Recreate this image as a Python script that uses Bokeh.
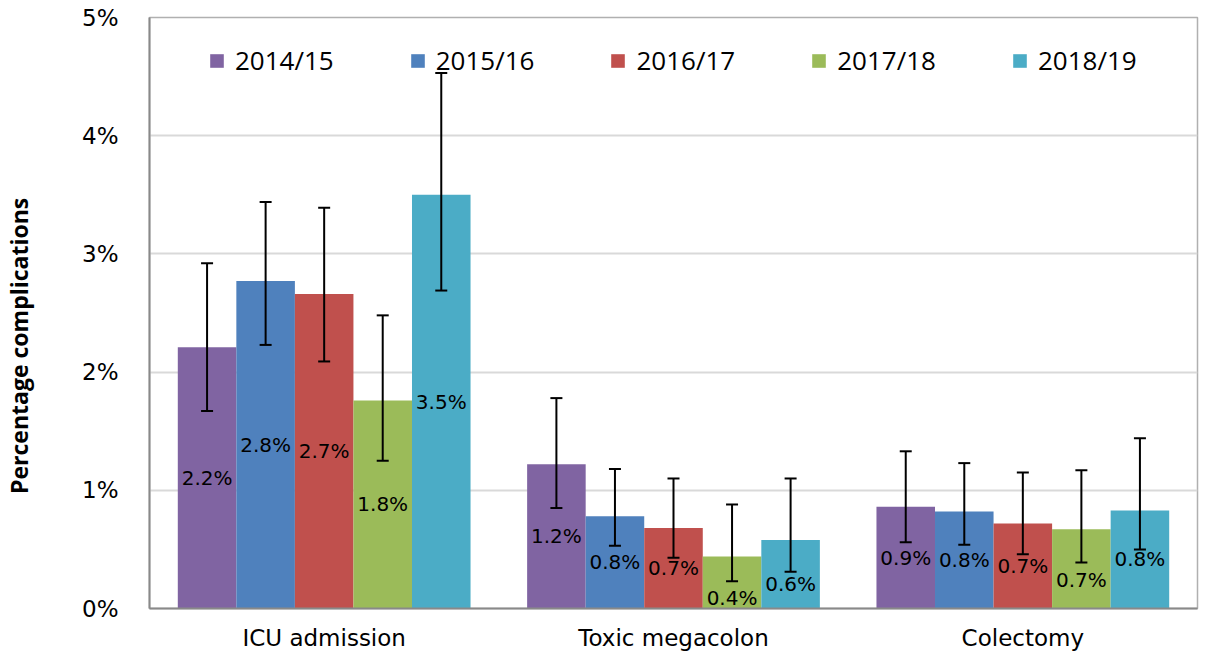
from bokeh.plotting import figure
from bokeh.models import Range1d, ColumnDataSource, FixedTicker, Legend, LegendItem, LabelSet
from bokeh.core.properties import value
from bokeh.embed import file_html
from bokeh.resources import INLINE

# ---- data ----
categories = ["ICU admission", "Toxic megacolon", "Colectomy"]
years = ["2014/15", "2015/16", "2016/17", "2017/18", "2018/19"]

pct_2014_15 = [2.21, 1.22, 0.86]
pct_2015_16 = [2.77, 0.78, 0.82]
pct_2016_17 = [2.66, 0.68, 0.72]
pct_2017_18 = [1.76, 0.44, 0.67]
pct_2018_19 = [3.50, 0.58, 0.83]

lo_2014_15 = [1.67, 0.85, 0.56]
hi_2014_15 = [2.92, 1.78, 1.33]
lo_2015_16 = [2.23, 0.53, 0.54]
hi_2015_16 = [3.44, 1.18, 1.23]
lo_2016_17 = [2.09, 0.43, 0.46]
hi_2016_17 = [3.39, 1.10, 1.15]
lo_2017_18 = [1.25, 0.23, 0.39]
hi_2017_18 = [2.48, 0.88, 1.17]
lo_2018_19 = [2.69, 0.31, 0.50]
hi_2018_19 = [4.53, 1.10, 1.44]

y_ticks = [0, 1, 2, 3, 4, 5]
y_tick_labels = ["0%", "1%", "2%", "3%", "4%", "5%"]
y_title = "Percentage complications"

# ---- styles ----
colors = ["#8064A2", "#4F81BD", "#C0504D", "#9BBB59", "#4BACC6"]
label_shift_px = [[0, 0, 0], [0, 0, 0], [0, 0, 0], [0, 16, 11], [0, 10, 0]]
bar_w = 0.1676
title_pad = "\u00a0" * 11  # nudges the rotated axis title toward the bottom

values = [pct_2014_15, pct_2015_16, pct_2016_17, pct_2017_18, pct_2018_19]
lows = [lo_2014_15, lo_2015_16, lo_2016_17, lo_2017_18, lo_2018_19]
highs = [hi_2014_15, hi_2015_16, hi_2016_17, hi_2017_18, hi_2018_19]

p = figure(width=1199, height=653, output_backend="svg", toolbar_location=None,
           x_range=Range1d(0, 3), y_range=Range1d(0, 5),
           min_border_left=148, min_border_right=2, min_border_top=17, min_border_bottom=42)

items = []
sources = []
for j, yr in enumerate(years):
    xs = [i + 0.5 + (j - 2) * bar_w for i in range(len(categories))]
    src = ColumnDataSource(dict(
        x=xs, top=values[j], lo=lows[j], hi=highs[j],
        mid=[v / 2 for v in values[j]],
        txt=[f"{v:.1f}%" for v in values[j]],
        dy=[-d for d in label_shift_px[j]],
    ))
    sources.append(src)
    r = p.vbar(x="x", top="top", width=bar_w, source=src, fill_color=colors[j], line_color=None)
    items.append(LegendItem(label=yr, renderers=[r]))

for src in sources:
    p.segment(x0="x", y0="lo", x1="x", y1="hi", source=src, line_color="black", line_width=2)
    p.scatter(x="x", y="hi", source=src, marker="dash", size=12, line_color="black", line_width=2)
    p.scatter(x="x", y="lo", source=src, marker="dash", size=12, line_color="black", line_width=2)

for src in sources:
    p.add_layout(LabelSet(x="x", y="mid", text="txt", source=src, y_offset="dy",
                          text_align="center", text_baseline="middle",
                          text_font=value("DejaVu Sans"), text_font_size="20px", text_color="black"))

legend = Legend(items=items, orientation="horizontal", location=(59, 530),
                glyph_width=17, glyph_height=17, label_standoff=10, spacing=75,
                padding=0, margin=0, border_line_color=None, background_fill_alpha=0,
                label_text_font="Open Sans", label_text_font_size="26px", label_text_color="black")
p.add_layout(legend, "center")

# axes
p.xaxis.ticker = FixedTicker(ticks=[0.5, 1.5, 2.5])
p.xaxis.major_label_overrides = {0.5: categories[0], 1.5: categories[1], 2.5: categories[2]}
p.xaxis.major_tick_line_color = None
p.xaxis.minor_tick_line_color = None
p.xaxis.axis_line_color = "#898989"
p.xaxis.axis_line_width = 2
p.xaxis.major_label_standoff = 10
p.xaxis.major_label_text_font = "DejaVu Sans"
p.xaxis.major_label_text_font_size = "23px"
p.xaxis.major_label_text_color = "black"

p.yaxis.ticker = FixedTicker(ticks=y_ticks)
p.yaxis.major_label_overrides = {t: l for t, l in zip(y_ticks, y_tick_labels)}
p.yaxis.major_tick_line_color = None
p.yaxis.minor_tick_line_color = None
p.yaxis.axis_line_color = "#898989"
p.yaxis.axis_line_width = 2
p.yaxis.major_label_standoff = 25
p.yaxis.major_label_text_font = "DejaVu Sans"
p.yaxis.major_label_text_font_size = "23px"
p.yaxis.major_label_text_color = "black"
p.yaxis.axis_label = y_title + title_pad
p.yaxis.axis_label_text_font = "Open Sans"
p.yaxis.axis_label_text_font_style = "bold"
p.yaxis.axis_label_text_font_size = "23px"
p.yaxis.axis_label_text_color = "black"
p.yaxis.axis_label_standoff = 44

p.xgrid.grid_line_color = None
p.ygrid.grid_line_color = "#d9d9d9"
p.ygrid.grid_line_width = 2
p.outline_line_color = "#b0b0b0"
p.outline_line_width = 1.5
p.background_fill_color = "white"

open("out.html", "w").write(file_html(p, INLINE))
